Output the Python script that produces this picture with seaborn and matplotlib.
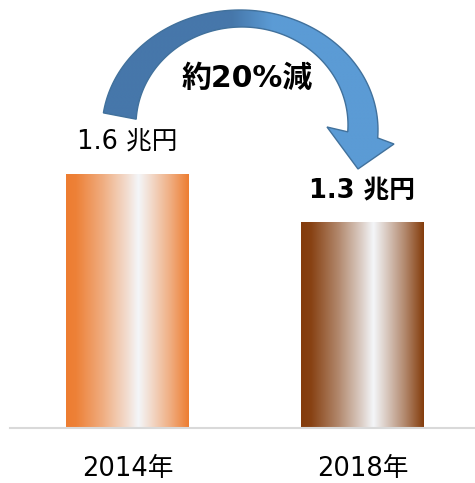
import numpy as np
import pandas as pd
import matplotlib
matplotlib.use("Agg")
import matplotlib.pyplot as plt
import seaborn as sns
from matplotlib.colors import to_rgb
from matplotlib.patches import Polygon

# ---- data ----
years = ["2014年", "2018年"]
values = [1.6, 1.3]
value_labels = ["1.6 兆円", "1.3 兆円"]
label_bold = [False, True]
change_label = "約20%減"
bar_colors = ["#ED7D31", "#843C0C"]

sns.set_theme(style="white")
plt.rcParams["font.family"] = ["DejaVu Sans", "Noto Sans CJK JP"]

W, H = 475, 483
fig = plt.figure(figsize=(W / 100, H / 100), dpi=100)
ax = fig.add_axes([10 / W, (H - 428) / H, (W - 10) / W, 428 / H])

df = pd.DataFrame({"year": years, "value": values})
sns.barplot(data=df, x="year", y="value", ax=ax, width=0.523,
            palette=bar_colors, hue="year", legend=False)

white = np.array(to_rgb("#F4F6F9"))
prof_x = [0, 0.08, 0.3, 0.5, 0.59, 0.68, 0.85, 1.0]
prof_y = [0, 0.03, 0.4, 0.8, 1.0, 0.8, 0.4, 0.0]
tt = np.linspace(0, 1, 256)
blend = np.interp(tt, prof_x, prof_y)

for patch, col in zip(ax.patches, bar_colors):
    x0, y0 = patch.get_x(), patch.get_y()
    w, h = patch.get_width(), patch.get_height()
    base = np.array(to_rgb(col))
    grad = base[None, :] * (1 - blend[:, None]) + white[None, :] * blend[:, None]
    img = grad[None, :, :]
    im = ax.imshow(img, extent=[x0, x0 + w, y0, y0 + h], aspect="auto",
                   zorder=2, interpolation="bilinear")
    im.set_clip_path(patch)
    patch.set_facecolor("none")
    patch.set_edgecolor("none")

for i, (v, lab, b) in enumerate(zip(values, value_labels, label_bold)):
    ax.annotate(lab, xy=(i, v), xytext=(0, 22.5), textcoords="offset points",
                ha="center", va="center", fontsize=18.5,
                fontweight="bold" if b else "normal", color="black")

ax.set_xlim(-0.5, 1.479)
ax.set_ylim(0, 428 / 158.75)
ax.set_xlabel("")
ax.set_ylabel("")
ax.set_yticks([])
ax.tick_params(axis="x", length=0, pad=20, labelsize=18.5, colors="black")
for s in ["top", "right", "left"]:
    ax.spines[s].set_visible(False)
ax.spines["bottom"].set_color("#D9D9D9")
ax.spines["bottom"].set_linewidth(1.5)
ax.set_facecolor("none")

# ---- curved arrow overlay (pixel coordinates, y down) ----
ov = fig.add_axes([0, 0, 1, 1])
ov.set_xlim(0, W)
ov.set_ylim(H, 0)
ov.axis("off")
ov.set_facecolor("none")

t_out = np.radians(np.linspace(171.8, -3.8, 120))
outer = np.c_[240 + 138 * np.cos(t_out), 130 - 120 * np.sin(t_out)]
t_in = np.radians(np.linspace(-4.0, 176.6, 120))
inner = np.c_[242 + 106 * np.cos(t_in), 125 - 98 * np.sin(t_in)]
head = np.array([[394, 144], [358, 169], [327, 127]])
pts = np.vstack([outer, head, inner])

arrow = Polygon(pts, closed=True, facecolor="none", edgecolor="#41719C",
                linewidth=1.0, zorder=3)
ov.add_patch(arrow)
dark = np.array(to_rgb("#4677AA"))
light = np.array(to_rgb("#5B9BD5"))
xs = np.linspace(0, 1, 400)
xpix = 90 + xs * (410 - 90)
bl = np.clip((xpix - 232) / 40, 0, 1)
g = dark[None, :] * (1 - bl[:, None]) + light[None, :] * bl[:, None]
im = ov.imshow(g[None, :, :], extent=[90, 410, 180, 0], aspect="auto",
               zorder=2, interpolation="bilinear")
im.set_clip_path(arrow)
ov.set_xlim(0, W)
ov.set_ylim(H, 0)

ov.text(247, 78, change_label, ha="center", va="center", fontsize=21.5,
        fontweight="bold", color="black", zorder=4)

fig.savefig("out.png", dpi=100, facecolor="white")
